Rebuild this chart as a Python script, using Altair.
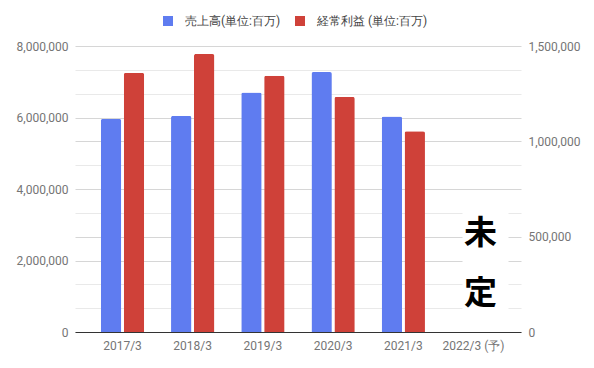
import altair as alt
import pandas as pd

categories = ["2017/3", "2018/3", "2019/3", "2020/3", "2021/3", "2022/3 (予)"]
sales = [5960000, 6045000, 6700000, 7270000, 6030000]
profit = [1359000, 1458000, 1344000, 1233000, 1053000]
series_names = ["売上高(単位:百万)", "経常利益 (単位:百万)"]
colors = ["#5f7cf0", "#cf4139"]
note_chars = ["未", "定"]
note_y = [2750000, 1075000]
note_box = [3500000, 350000]
left_ticks = [0, 2000000, 4000000, 6000000, 8000000]
right_ticks = [0, 500000, 1000000, 1500000]
left_max = 8000000
right_max = 1500000
grid_vals = [left_max * i / 12 for i in range(13)]

sales_df = pd.DataFrame({"cat": categories[:5], "value": sales, "series": series_names[0]})
profit_df = pd.DataFrame({"cat": categories[:5], "value": profit, "series": series_names[1]})
note_df = pd.DataFrame({"cat": [categories[5]] * 2, "ny": note_y, "txt": note_chars})
box_df = pd.DataFrame({"cat": [categories[5]], "top": [note_box[0]], "bottom": [note_box[1]]})

FONT = "Roboto"
LBL = "#757575"

x_enc = alt.X(
    "cat:N",
    sort=categories,
    scale=alt.Scale(domain=categories, paddingInner=0.383, paddingOuter=0.368),
    axis=alt.Axis(title=None, labelAngle=0, ticks=False, domainColor="#333333",
                  labelPadding=8, labelFont=FONT, labelFontSize=12, labelColor=LBL, grid=False),
)
xoff = alt.XOffset("series:N", scale=alt.Scale(domain=series_names, paddingInner=0.11, paddingOuter=0))
color = alt.Color(
    "series:N",
    scale=alt.Scale(domain=series_names, range=colors),
    legend=alt.Legend(title=None, orient="none", legendX=87, legendY=-31, direction="horizontal",
                      symbolType="square", symbolSize=100, symbolStrokeWidth=0,
                      labelFont=FONT, labelFontSize=12, labelColor="#444444",
                      columnPadding=13, labelOffset=11, padding=0),
)

major_test = ("round(datum.value/(%d/12)) %% 3 == 0 || round(datum.value/(%d/12)) %% 4 == 0" % (left_max, left_max))
left_axis = alt.Axis(
    title=None, values=grid_vals,
    labelExpr="abs(datum.value/2000000 - round(datum.value/2000000)) < 0.000001 ? format(datum.value, ',') : ''",
    grid=True,
    gridColor={"condition": {"test": major_test, "value": "#d6d6d6"}, "value": "#e9e9e9"},
    domain=False, ticks=False, labelPadding=7,
    labelFont=FONT, labelFontSize=12, labelColor=LBL,
)
left_scale = alt.Scale(domain=[0, left_max], nice=False)

blue = alt.Chart(sales_df).mark_bar(cornerRadiusTopLeft=2, cornerRadiusTopRight=2).encode(
    x=x_enc, xOffset=xoff,
    y=alt.Y("value:Q", scale=left_scale, axis=left_axis),
    color=color,
)
box = alt.Chart(box_df).mark_bar(color="white", width=46, xOffset=12).encode(
    x=x_enc,
    y=alt.Y("top:Q", scale=left_scale, axis=left_axis),
    y2="bottom:Q",
)
note = alt.Chart(note_df).mark_text(
    font="Noto Sans CJK JP", fontSize=33, fontWeight="bold", color="black", dx=7, baseline="middle"
).encode(
    x=x_enc,
    y=alt.Y("ny:Q", scale=left_scale, axis=left_axis),
    text="txt:N",
)
red = alt.Chart(profit_df).mark_bar(cornerRadiusTopLeft=2, cornerRadiusTopRight=2).encode(
    x=x_enc, xOffset=xoff,
    y=alt.Y("value:Q", scale=alt.Scale(domain=[0, right_max], nice=False),
            axis=alt.Axis(title=None, orient="right", values=right_ticks,
                          labelExpr="format(datum.value, ',')", grid=False,
                          domain=False, ticks=False, labelPadding=7,
                          labelFont=FONT, labelFontSize=12, labelColor=LBL)),
    color=color,
)

chart = alt.layer(alt.layer(blue, box, note), red).resolve_scale(y="independent").properties(
    width=446, height=286,
    autosize=alt.AutoSizeParams(type="none"),
    padding={"left": 67, "top": 38, "right": 60, "bottom": 24},
).configure_view(stroke=None)

chart.save("out.html", embed_options={"renderer": "svg", "actions": False})
